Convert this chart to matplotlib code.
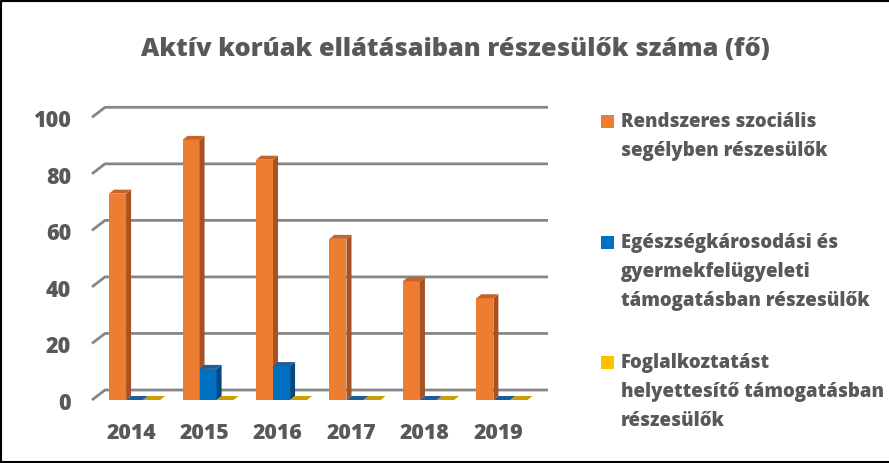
import matplotlib
matplotlib.use("Agg")
import matplotlib.pyplot as plt
from matplotlib.patches import Polygon, Rectangle
from matplotlib.lines import Line2D
import numpy as np

# ---------------- data ----------------
years = ["2014", "2015", "2016", "2017", "2018", "2019"]
rendszeres = [73, 92, 85, 57, 42, 36]
egeszseg = [0, 11, 12, 0, 0, 0]
foglalkoztatast = [0, 0, 0, 0, 0, 0]
series_names = [
    "Rendszeres szociális\nsegélyben részesülők",
    "Egészségkárosodási és\ngyermekfelügyeleti\ntámogatásban részesülők",
    "Foglalkoztatást\nhelyettesítő támogatásban\nrészesülők",
]
title = "Aktív korúak ellátásaiban részesülők száma (fő)"
yticks = [0, 20, 40, 60, 80, 100]

# ---------------- style ----------------
FONT = "Open Sans"
TXT = "#595959"
front_cols = ["#ED7D31", "#0070C0", "#FFC000"]
side_cols = ["#A65222", "#004A80", "#B88A00"]
top_cols = ["#C5632A", "#1F5C99", "#C9A000"]

W, H = 889, 464
fig = plt.figure(figsize=(W / 100, H / 100), dpi=100)
fig.patch.set_facecolor("white")

# front plane of plot area (pixels)
px_left, px_right = 92, 535
px_bottom, px_top = 401, 118.3
ax = fig.add_axes([px_left / W, (H - px_bottom) / H,
                   (px_right - px_left) / W, (px_bottom - px_top) / H])
x0, x1 = -0.58, 5.45
ax.set_xlim(x0, x1)
ax.set_ylim(0, 100)
for s in ax.spines.values():
    s.set_visible(False)
ax.set_facecolor("none")

xpx = (x1 - x0) / (px_right - px_left)   # data units per pixel (x)
ypx = 100 / (px_bottom - px_top)          # data units per pixel (y)

# wall depth offset
wdx, wdy = 13 * xpx, 10 * ypx
for v in yticks:
    ax.add_line(Line2D([x0, x0 + wdx, x1 + wdx], [v, v + wdy, v + wdy],
                       color="#868686", lw=2.0, zorder=1, clip_on=False,
                       solid_capstyle="butt"))

# bars with pseudo-3D faces
bw = 0.232
bdx, bdy = 5 * xpx, 4 * ypx
x = np.arange(len(years))
all_series = [rendszeres, egeszseg, foglalkoztatast]
for si, vals in enumerate(all_series):
    off = (si - 1) * bw
    z = 3 + si
    ax.bar(x + off, vals, width=bw, color=front_cols[si], zorder=z,
           linewidth=0, clip_on=False)
    for xi, v in zip(x, vals):
        xl = xi + off - bw / 2
        xr = xi + off + bw / 2
        side = Polygon([(xr, 0), (xr + bdx, bdy), (xr + bdx, v + bdy), (xr, v)],
                       closed=True, facecolor=side_cols[si], edgecolor="none",
                       zorder=z, clip_on=False)
        top = Polygon([(xl, v), (xl + bdx, v + bdy), (xr + bdx, v + bdy), (xr, v)],
                      closed=True, facecolor=top_cols[si], edgecolor="none",
                      zorder=z, clip_on=False)
        ax.add_patch(side)
        ax.add_patch(top)

ax.set_yticks(yticks)
ax.set_yticklabels([str(v) for v in yticks], fontfamily=FONT,
                   fontweight="heavy", fontsize=15.5, color=TXT)
ax.set_xticks(x - 0.05)
ax.set_xticklabels(years, fontfamily=FONT, fontweight="heavy",
                   fontsize=15.3, color=TXT)
ax.tick_params(axis="y", length=0, pad=15)
ax.tick_params(axis="x", length=0, pad=16)

# title
fig.text(455 / W, 1 - 50 / H, title, ha="center", va="center",
         fontfamily=FONT, fontweight="heavy", fontsize=18.3, color=TXT)

# legend (manual)
leg_y = [122, 243, 363]
line_step = 28.8
for si, name in enumerate(series_names):
    yc = leg_y[si]
    fig.patches.append(Rectangle((601 / W, 1 - (yc + 6.5) / H), 13 / W, 13 / H,
                                 transform=fig.transFigure,
                                 facecolor=front_cols[si], edgecolor="none"))
    for k, line in enumerate(name.split("\n")):
        fig.text(621 / W, 1 - (yc + k * line_step) / H, line, ha="left",
                 va="center", fontfamily=FONT, fontweight="heavy",
                 fontsize=13.4, color=TXT)

# outer border (left, top, bottom)
fig.add_artist(Line2D([1 / W, 1 / W, 1], [0.5 / H, 1 - 1.5 / H, 1 - 1.5 / H],
                      transform=fig.transFigure, color="black", lw=1.5))
fig.add_artist(Line2D([1 / W, 1], [0.8 / H, 0.8 / H],
                      transform=fig.transFigure, color="black", lw=1.5))

fig.savefig("out.png", dpi=100, facecolor="white")
